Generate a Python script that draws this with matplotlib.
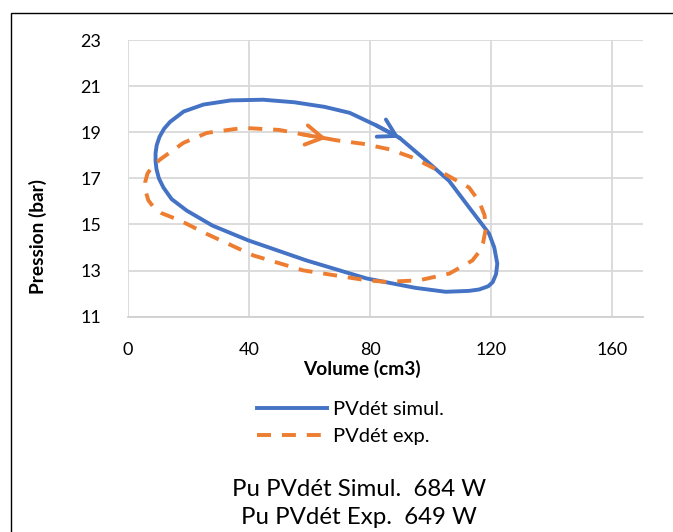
import matplotlib.pyplot as plt
from matplotlib.patches import Rectangle
from matplotlib.lines import Line2D

plt.rcParams['font.family'] = ['Lato', 'DejaVu Sans']

# PV cycle, simulation (clockwise, ends at the arrow)
vol_sim = [89.7, 98, 106.1, 112.7, 117, 119.3, 121, 122, 121.6, 120.5, 119, 116, 112.7, 105, 95,
           78.8, 59, 39.8, 28, 19.5, 14.5, 11.8, 10.3, 9.5, 9.2, 9.2, 9.6, 10.5, 12, 14, 18.5, 25, 34,
           44.7, 55, 65, 73.3, 82, 89.7]
p_sim = [18.76, 17.83, 16.89, 15.74, 15.0, 14.6, 14.0, 13.3, 12.85, 12.5, 12.32, 12.18, 12.12, 12.08, 12.25,
         12.66, 13.44, 14.31, 14.95, 15.6, 16.1, 16.6, 17.0, 17.4, 17.75, 18.1, 18.45, 18.8, 19.15, 19.45,
         19.9, 20.2, 20.38, 20.41, 20.3, 20.1, 19.84, 19.3, 18.76]

# PV cycle, experiment
vol_exp = [65.6, 68.9, 77.6, 86.4, 94.1, 103.9, 112.7, 116, 117.8, 118.2, 117.3, 116.5, 113.8, 106.2, 96.3,
           85.3, 78.8, 57.9, 41.4, 26.1, 17.3, 11, 8.6, 6.8, 5.9, 5.8, 6.5, 8, 10.8, 18.4, 26.1,
           38.2, 50, 58, 65.6]
p_exp = [18.73, 18.65, 18.5, 18.26, 17.9, 17.25, 16.6, 16.0, 15.4, 14.8, 14.2, 13.9, 13.44, 12.87, 12.58,
         12.51, 12.58, 13.01, 13.66, 14.59, 15.17, 15.5, 15.74, 16.05, 16.45, 16.85, 17.2, 17.5, 17.83,
         18.54, 18.97, 19.19, 19.1, 18.9, 18.73]

x_ticks = [0, 40, 80, 120, 160]
y_ticks = [11, 13, 15, 17, 19, 21, 23]
labels = ['PVdét simul.', 'PVdét exp.']
notes = ['Pu PVdét Simul.  684 W', 'Pu PVdét Exp.  649 W']

blue = '#4472C4'
orange = '#ED7D31'
W, H = 673, 532

fig = plt.figure(figsize=(W / 100, H / 100), dpi=100)
ax = fig.add_axes([127.7 / W, 1 - 316.7 / H, (642.7 - 127.7) / W, (316.7 - 40) / H])

ax.plot(vol_sim, p_sim, color=blue, lw=2.8, solid_capstyle='round', solid_joinstyle='round')
ax.plot(vol_exp, p_exp, color=orange, lw=2.8, dashes=(3.6, 2.8))
# arrowheads at the end of each series
ax.annotate('', xy=(vol_sim[-1], p_sim[-1]), xytext=(vol_sim[-2], p_sim[-2]),
            arrowprops=dict(arrowstyle='->, head_length=0.6, head_width=0.35',
                            color=blue, lw=2.8, mutation_scale=20, shrinkA=0, shrinkB=0))
ax.annotate('', xy=(vol_exp[-1], p_exp[-1]), xytext=(vol_exp[-2], p_exp[-2]),
            arrowprops=dict(arrowstyle='->, head_length=0.6, head_width=0.35',
                            color=orange, lw=2.8, mutation_scale=20, shrinkA=0, shrinkB=0))

ax.set_xlim(0, 170)
ax.set_ylim(11, 23)
ax.set_xticks(x_ticks)
ax.set_yticks(y_ticks)
ax.grid(True, color='#D9D9D9', lw=1.3)
ax.set_axisbelow(True)
for s in ['top', 'right', 'left']:
    ax.spines[s].set_visible(False)
ax.spines['bottom'].set_color('#D0D0D0')
ax.spines['bottom'].set_linewidth(1.3)
ax.tick_params(length=0, labelsize=13, colors='black')
ax.tick_params(axis='y', pad=19)
ax.tick_params(axis='x', pad=18)

fig.text(38 / W, 1 - 237 / H, 'Pression (bar)', rotation=90, ha='center', va='center',
         fontsize=13.8, fontweight='bold')
fig.text(362 / W, 1 - 369 / H, 'Volume (cm3)', ha='center', va='center',
         fontsize=13.8, fontweight='bold')

handles = [Line2D([], [], color=blue, lw=2.8),
           Line2D([], [], color=orange, lw=2.8, dashes=(3.6, 2.8))]
fig.legend(handles, labels, loc='upper left', bbox_to_anchor=(257 / W, 1 - 401 / H),
           frameon=False, fontsize=14.5, handlelength=3.5, handletextpad=0.25,
           labelspacing=0.5, borderaxespad=0, borderpad=0)

fig.text(359 / W, 1 - 490 / H, notes[0], ha='center', va='center', fontsize=17.3)
fig.text(359 / W, 1 - 517 / H, notes[1], ha='center', va='center', fontsize=17.3)

fig.patches.append(Rectangle((10.7 / W, -0.05), 1.2, 1 - 12.7 / H + 0.05,
                             transform=fig.transFigure, fill=False, ec='black', lw=1.0))

fig.savefig('out.png', dpi=100)
